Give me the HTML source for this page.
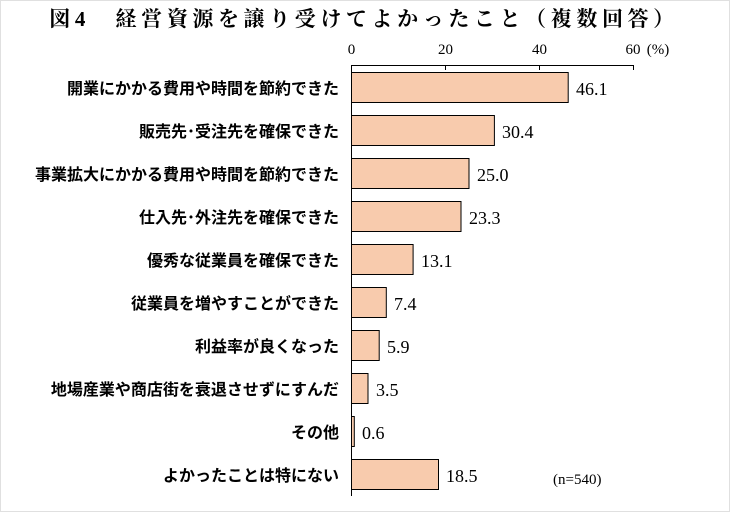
<!DOCTYPE html>
<html><head><meta charset="utf-8"><style>
html,body{margin:0;padding:0;background:#fff;}
svg{display:block;}
</style></head><body>
<svg width="730" height="512" xmlns="http://www.w3.org/2000/svg">
<rect x="0.5" y="0.5" width="729" height="511" fill="#fff" stroke="#e0e0e0"/>
<text x="364" y="26" text-anchor="middle" font-family="'Liberation Serif','Noto Serif CJK SC',serif" font-weight="bold" font-size="21" letter-spacing="4.6">図4　経営資源を譲り受けてよかったこと（複数回答）</text>
<g font-family="'Liberation Serif','Noto Serif CJK SC',serif" font-size="15" text-anchor="middle">
<text x="351.5" y="54">0</text><text x="445.5" y="54">20</text><text x="539.5" y="54">40</text><text x="633" y="54">60</text>
<text x="658" y="54">(%)</text>
</g>
<g stroke="#000" stroke-width="1">
<line x1="351.5" y1="65.5" x2="633.5" y2="65.5"/>
<line x1="351.5" y1="65" x2="351.5" y2="496"/>
<line x1="445.5" y1="65" x2="445.5" y2="70"/>
<line x1="539.5" y1="65" x2="539.5" y2="70"/>
<line x1="633.5" y1="65" x2="633.5" y2="70"/>
</g>
<g fill="#f8cbad" stroke="#000" stroke-width="1">
<rect x="351.5" y="72.5" width="216.7" height="30"/>
<rect x="351.5" y="115.5" width="142.9" height="30"/>
<rect x="351.5" y="158.5" width="117.5" height="30"/>
<rect x="351.5" y="201.5" width="109.5" height="30"/>
<rect x="351.5" y="244.5" width="61.6" height="30"/>
<rect x="351.5" y="287.5" width="34.8" height="30"/>
<rect x="351.5" y="330.5" width="27.7" height="30"/>
<rect x="351.5" y="373.5" width="16.5" height="30"/>
<rect x="351.5" y="416.5" width="2.8" height="30"/>
<rect x="351.5" y="459.5" width="87" height="30"/>
</g>
<g font-family="'Liberation Serif',serif" font-size="18">
<text x="576" y="95">46.1</text>
<text x="502" y="138">30.4</text>
<text x="477" y="181">25.0</text>
<text x="469" y="224">23.3</text>
<text x="421" y="267">13.1</text>
<text x="394" y="310">7.4</text>
<text x="387" y="353">5.9</text>
<text x="376" y="396">3.5</text>
<text x="362" y="439">0.6</text>
<text x="446" y="482">18.5</text>
</g>
<text x="553" y="484" font-family="'Liberation Serif',serif" font-size="15">(n=540)</text>
<g font-family="'Liberation Sans','Noto Sans CJK JP',sans-serif" font-weight="bold" font-size="16" text-anchor="end">
<text x="339" y="94">開業にかかる費用や時間を節約できた</text>
<text x="339" y="137">販売先･受注先を確保できた</text>
<text x="339" y="180">事業拡大にかかる費用や時間を節約できた</text>
<text x="339" y="223">仕入先･外注先を確保できた</text>
<text x="339" y="266">優秀な従業員を確保できた</text>
<text x="339" y="309">従業員を増やすことができた</text>
<text x="339" y="352">利益率が良くなった</text>
<text x="339" y="395">地場産業や商店街を衰退させずにすんだ</text>
<text x="339" y="438">その他</text>
<text x="339" y="481">よかったことは特にない</text>
</g>
</svg>
</body></html>
